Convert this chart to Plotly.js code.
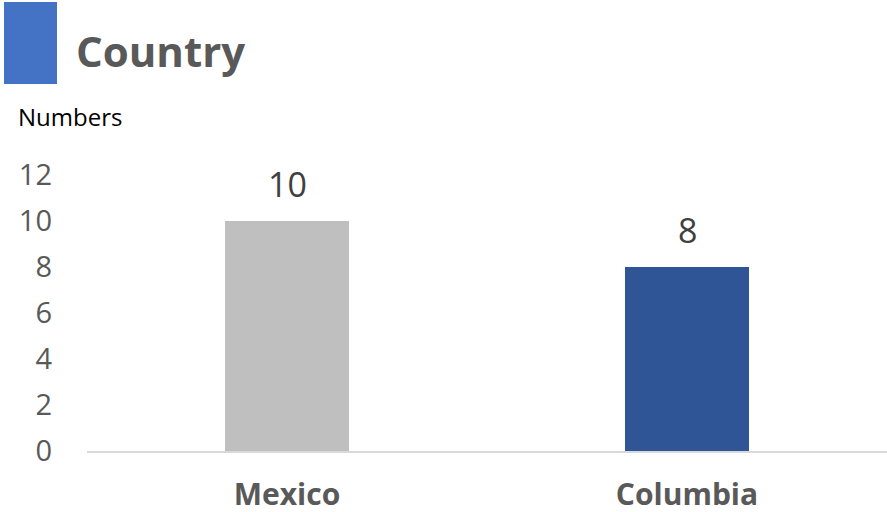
<!DOCTYPE html>
<html>
<head>
<meta charset="utf-8">
<script src="https://cdn.plot.ly/plotly-3.0.1.min.js"></script>
<style>html,body{margin:0;padding:0;background:#fff;overflow:hidden;}#chart{width:887px;height:512px;}</style>
</head>
<body>
<div id="chart"></div>
<script>
const categories = ["Mexico", "Columbia"];
const values = [10, 8];
const barColors = ["#BFBFBF", "#2F5597"];
const yTicks = [0, 2, 4, 6, 8, 10, 12];
const chartTitle = "Country";
const yLabel = "Numbers";

const FONT = "Open Sans, sans-serif";
const L = 87, R = 0, W = 887, T = 175, B = 61, H = 512;
const PH = H - T - B;
const px = x => (x - L) / (W - L - R);
const py = y => 1 + (T - y) / PH;

const trace = {
  type: "bar",
  x: categories,
  y: values,
  marker: {color: barColors},
  hoverinfo: "none"
};

const valueLabels = categories.map((c, i) => ({
  x: c, y: values[i], xref: "x", yref: "y",
  text: String(values[i]), showarrow: false,
  yanchor: "bottom", yshift: 12,
  font: {family: FONT, size: 34, color: "#404040"}
}));

const layout = {
  width: 887, height: 512,
  margin: {l: L, r: R, t: T, b: B},
  paper_bgcolor: "#fff", plot_bgcolor: "#fff",
  showlegend: false,
  bargap: 0.69,
  xaxis: {
    showgrid: false, zeroline: false,
    showline: true, linecolor: "#D9D9D9", linewidth: 1.5,
    ticks: "", ticklabelstandoff: 16,
    tickfont: {family: FONT, size: 30, color: "#595959"},
    tickprefix: "<b>", ticksuffix: "</b>"
  },
  yaxis: {
    range: [0, 12], tickvals: yTicks,
    showgrid: false, zeroline: false, showline: false,
    ticks: "", ticklabelstandoff: 34,
    tickfont: {family: FONT, size: 29, color: "#595959"}
  },
  shapes: [{
    type: "rect", xref: "paper", yref: "paper",
    x0: px(4), x1: px(57), y0: py(84), y1: py(2),
    fillcolor: "#4472C4", line: {width: 0}
  }],
  annotations: [{
    text: "<b>" + chartTitle + "</b>", xref: "paper", yref: "paper",
    x: px(74), xanchor: "left", y: py(50), yanchor: "middle",
    showarrow: false, font: {family: FONT, size: 42, color: "#595959"}
  }, {
    text: yLabel, xref: "paper", yref: "paper",
    x: px(16), xanchor: "left", y: py(117), yanchor: "middle",
    showarrow: false, font: {family: FONT, size: 24, color: "#000"}
  }].concat(valueLabels)
};

Plotly.newPlot("chart", [trace], layout, {staticPlot: true, displayModeBar: false});
</script>
</body>
</html>
